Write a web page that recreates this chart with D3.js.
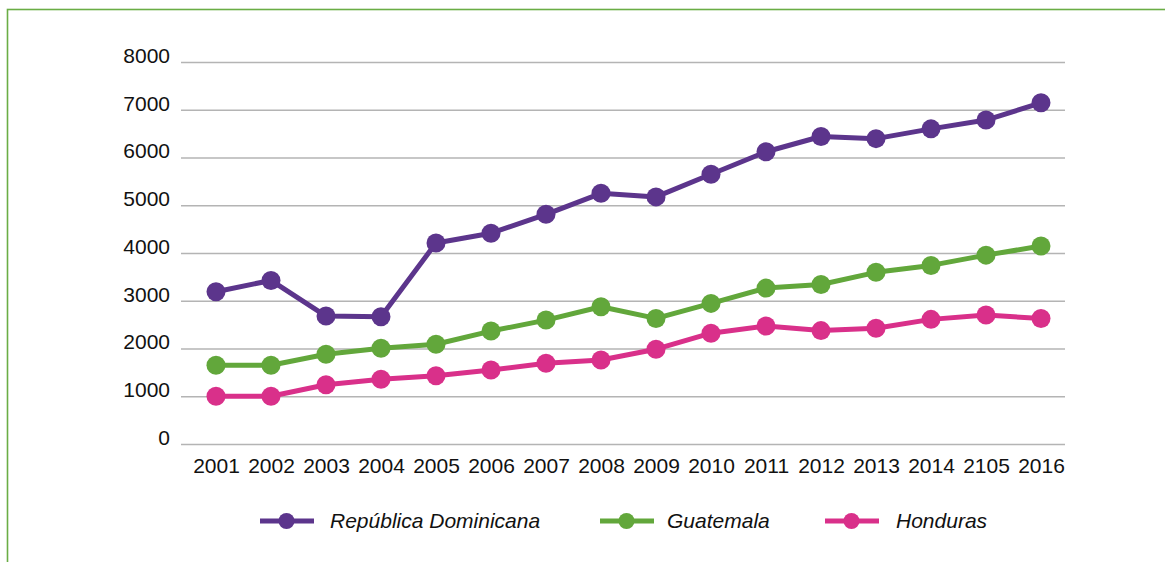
<!DOCTYPE html>
<html lang="es">
<head>
    <meta charset="UTF-8">
    <title>República Dominicana, Guatemala, Honduras</title>
    <style>
        body {
            margin: 0;
            background: #fff;
            font-family: "Liberation Sans", Arial, Helvetica, sans-serif;
        }

        .grid line {
            stroke: #b4b4b4;
            stroke-width: 1.3px;
        }

        .serie {
            fill: none;
            stroke-width: 5px;
            stroke-linejoin: round;
        }
    </style>
</head>
<body>
    <svg id="chart" width="1165" height="562"></svg>
    <script src="https://d3js.org/d3.v7.min.js"></script>
    <script>
        // datos
        var years = ["2001", "2002", "2003", "2004", "2005", "2006", "2007", "2008",
            "2009", "2010", "2011", "2012", "2013", "2014", "2105", "2016"];
        var yTicks = [0, 1000, 2000, 3000, 4000, 5000, 6000, 7000, 8000];

        var dominicana = [3190, 3425, 2680, 2665, 4210, 4415, 4810, 5250,
            5175, 5650, 6120, 6440, 6395, 6600, 6785, 7145];
        var guatemala = [1650, 1650, 1880, 2005, 2090, 2365, 2595, 2875,
            2630, 2945, 3265, 3340, 3595, 3740, 3955, 4145];
        var honduras = [1000, 1000, 1240, 1355, 1430, 1550, 1690, 1760,
            1985, 2320, 2470, 2375, 2425, 2610, 2700, 2630];

        var series = [
            { name: "República Dominicana", values: dominicana, color: "#5c358c" },
            { name: "Guatemala", values: guatemala, color: "#62a73b" },
            { name: "Honduras", values: honduras, color: "#d9308a" }
        ];

        var svg = d3.select("#chart");

        // marco verde
        svg.append("rect")
            .attr("x", 7.5)
            .attr("y", 9.5)
            .attr("width", 1200)
            .attr("height", 600)
            .attr("fill", "none")
            .attr("stroke", "#6aad45")
            .attr("stroke-width", 1.6);

        var gridLeft = 181, gridRight = 1065;

        var x = d3.scalePoint().domain(years).range([216, 1041]);
        var y = d3.scaleLinear().domain([0, 8000]).range([444, 62]);

        var yAxis = svg.append("g")
            .attr("class", "grid")
            .attr("transform", "translate(" + gridLeft + ",0)")
            .call(d3.axisLeft(y).tickValues(yTicks).tickSize(-(gridRight - gridLeft)).tickPadding(11).tickFormat(d3.format("d")));
        yAxis.select(".domain").remove();
        yAxis.selectAll("text")
            .attr("dy", "0.02em")
            .style("font-size", "21px")
            .style("fill", "#111");

        var xAxis = svg.append("g")
            .attr("transform", "translate(0,444)")
            .call(d3.axisBottom(x).tickSize(0).tickPadding(14));
        xAxis.select(".domain").remove();
        xAxis.selectAll("text")
            .style("font-size", "21px")
            .style("fill", "#111");

        var line = d3.line()
            .x(function (d, i) { return x(years[i]); })
            .y(function (d) { return y(d); });

        series.forEach(function (s) {
            var g = svg.append("g");
            g.append("path")
                .datum(s.values)
                .attr("class", "serie")
                .attr("stroke", s.color)
                .attr("d", line);
            g.selectAll("circle")
                .data(s.values)
                .enter().append("circle")
                .attr("cx", function (d, i) { return x(years[i]); })
                .attr("cy", function (d) { return y(d); })
                .attr("r", 9.5)
                .attr("fill", s.color);
        });

        // leyenda
        var legendX = [260, 600, 825];
        var legendTextX = [330, 667, 896];
        var legend = svg.append("g").attr("transform", "translate(0,521)");
        series.forEach(function (s, i) {
            var lg = legend.append("g");
            lg.append("line")
                .attr("x1", legendX[i]).attr("x2", legendX[i] + 54)
                .attr("stroke", s.color)
                .attr("stroke-width", 5);
            lg.append("circle")
                .attr("cx", legendX[i] + 26.5)
                .attr("r", 8)
                .attr("fill", s.color);
            lg.append("text")
                .attr("x", legendTextX[i])
                .attr("y", 6.5)
                .style("font-size", "21px")
                .style("font-style", "italic")
                .style("fill", "#111")
                .text(s.name);
        });
    </script>
</body>
</html>
